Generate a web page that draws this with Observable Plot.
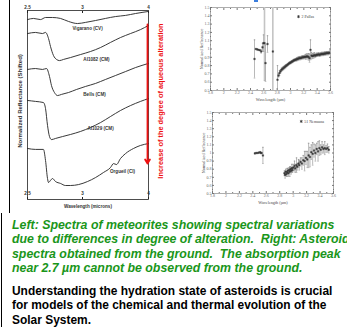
<!DOCTYPE html>
<html><head><meta charset="utf-8">
<script src="https://cdn.jsdelivr.net/npm/d3@7"></script>
<script src="https://cdn.jsdelivr.net/npm/@observablehq/plot@0.6"></script>
<style>
html,body{margin:0;padding:0;background:#fff;}
#page{position:relative;width:347px;height:327px;overflow:hidden;background:#fff;font-family:"Liberation Sans",Arial,sans-serif;}
.abs{position:absolute;}
#rule1{left:9px;top:0;width:1px;height:213px;background:#000;}
#rule2{left:1px;top:213px;width:1px;height:114px;background:#000;}
#blue{left:254px;top:0;width:4px;height:2px;background:#3b7ddd;}
#cap{left:12px;top:218px;white-space:nowrap;font-weight:bold;line-height:14.3px;}
#green{color:#1a961a;font-style:italic;font-size:12.35px;}
#black{color:#000;margin-top:9px;font-size:11.95px;}
</style></head>
<body><div id="page">
<div id="rule1" class="abs"></div>
<div id="rule2" class="abs"></div>
<div id="blue" class="abs"></div>
<div id="left" class="abs" style="left:0;top:0"></div>
<div id="tr" class="abs" style="left:175px;top:0"></div>
<div id="br" class="abs" style="left:175px;top:100px"></div>
<div id="cap" class="abs"><div id="green"></div><div id="black"></div></div>
</div>
<script>
// ---------- Left chart: meteorite spectra (wavelength in microns, shifted normalized reflectance) ----------
const waveTicks = [2.5, 3, 4];
const vigaranoWave = [2.50,2.555,2.618,2.664,2.727,2.80,2.873,2.955,3.045,3.197,3.348,3.50,3.652,3.803,4.00];
const vigaranoRefl = [9.52,9.58,9.52,9.63,9.63,9.58,9.42,9.31,9.37,9.47,9.58,9.68,9.74,9.84,9.95];
const ai1082Wave = [2.50,2.573,2.636,2.664,2.691,2.709,2.736,2.764,2.791,2.827,2.891,2.982,3.121,3.273,3.424,3.576,3.727,3.879,4.00];
const ai1082Refl = [8.78,8.84,8.78,8.84,8.52,8.10,7.62,7.41,7.35,7.41,7.51,7.67,7.83,8.04,8.31,8.57,8.78,8.99,9.21];
const bellsWave = [2.50,2.573,2.636,2.673,2.70,2.718,2.745,2.773,2.809,2.873,2.945,3.045,3.197,3.348,3.50,3.652,3.803,4.00];
const bellsRefl = [6.88,6.93,6.88,6.93,6.51,6.03,5.66,5.50,5.56,5.66,5.82,5.98,6.14,6.35,6.56,6.77,6.98,7.20];
const ai1029Wave = [2.50,2.573,2.645,2.664,2.682,2.70,2.718,2.755,2.818,2.891,2.982,3.121,3.273,3.424,3.576,3.727,3.879,4.00];
const ai1029Refl = [5.24,5.19,5.13,4.81,3.92,3.33,3.17,3.23,3.33,3.44,3.60,3.81,4.07,4.39,4.71,4.97,5.19,5.34];
const orgueilWave = [2.50,2.573,2.645,2.664,2.682,2.691,2.709,2.727,2.755,2.80,2.845,2.891,2.964,3.076,3.197,3.318,3.424,3.47,3.515,3.576,3.652,3.773,3.879,4.00];
const orgueilRefl = [2.70,2.65,2.65,2.06,1.11,0.90,1.01,1.11,0.95,0.85,0.74,0.74,0.79,0.95,1.16,1.43,1.69,1.90,1.85,2.17,2.43,2.70,2.86,2.96];
const curveNames = ["Vigarano (CV)","AI1082 (CM)","Bells (CM)","AI1029 (CM)","Orgueil (CI)"];
const labelWave = [3.076, 3.212, 3.182, 3.273, 3.606];
const labelRefl = [9.05, 7.41, 5.56, 3.76, 1.48];
const arrowWave = 3.985, arrowFrom = 9.26, arrowTo = 1.90;
const leftYTitle = "Normalized Reflectance (Shifted)";
const leftXTitle = "Wavelength (microns)";
const redTitle = "Increase of the degree of aqueous alteration";

// ---------- Right charts: asteroid spectra ----------
const astXTicks = [1.8,2,2.2,2.4,2.6,2.8,3,3.2,3.4,3.6];
const astYTicks = [0.5,0.6,0.7,0.8,0.9,1,1.1,1.2,1.3,1.4,1.5];
const pallasName = "2 Pallas";
const pallasWave = [2.46,2.48,2.50,2.52,2.54,2.56,2.58,2.595,2.61,2.625,2.655,2.735,
  2.805,2.82,2.835,2.85,2.865,2.88,2.895,2.91,2.925,2.94,2.955,2.97,2.985,3.00,3.015,3.03,3.045,3.06,3.075,3.09,3.105,3.12,3.135,3.15,3.165,3.18,3.195,3.21,3.225,3.24,3.255,3.27,3.285,3.30,3.315,3.33,3.345,3.36,3.375,3.39,3.405,3.42,3.435,3.45,3.465,3.48,3.495,3.51,3.525,3.54,3.555,3.57,3.585];
const pallasRefl = [0.88,1.00,0.995,0.99,0.985,0.97,1.02,1.07,1.07,0.83,1.06,0.97,
  0.63,0.68,0.71,0.73,0.75,0.76,0.77,0.78,0.79,0.80,0.81,0.82,0.83,0.835,0.845,0.85,0.86,0.865,0.87,0.875,0.88,0.885,0.89,0.89,0.895,0.90,0.90,0.905,0.905,0.91,0.91,0.905,0.89,0.99,0.92,0.915,0.92,0.925,0.92,0.93,0.93,0.935,0.93,0.935,0.94,0.94,0.94,0.945,0.945,0.95,0.95,0.95,0.955];
const pallasErr = [0.23,0,0,0,0,0.02,0.05,0.10,0.45,0.22,0.10,0.9,
  0.17,0.02,0.03,0.02,0.02,0.02,0.02,0.02,0.02,0.015,0.015,0.015,0.015,0.015,0.015,0.015,0.015,0.015,0.015,0.02,0.02,0.02,0.02,0.02,0.02,0.02,0.02,0.02,0.03,0.03,0.03,0.04,0.05,0.12,0.04,0.03,0.03,0.03,0.02,0.02,0.02,0.02,0.02,0.02,0.02,0.02,0.02,0.02,0.02,0.02,0.02,0.02,0.02];
const secondName = "51 Nemausa";
const secondWave = [2.43,2.45,2.47,2.49,2.51,2.52,2.53,2.55,
  2.87,2.88,2.89,2.90,2.91,2.92,2.93,2.94,2.95,2.96,2.97,2.98,2.99,3.00,3.02,3.03,3.05,3.06,3.08,3.09,3.11,3.13,3.15,3.17,3.19,3.21,3.23,3.25,3.27,3.29,3.31,3.33,3.35,3.37,3.39,3.41,3.43,3.45,3.47,3.49,3.51,3.53];
const secondRefl = [0.995,1.0,1.0,1.005,1.01,1.0,1.0,0.97,
  0.75,0.73,0.77,0.74,0.76,0.78,0.75,0.79,0.77,0.80,0.78,0.81,0.79,0.82,0.84,0.81,0.85,0.83,0.87,0.85,0.89,0.87,0.91,0.90,0.94,0.92,0.97,0.95,1.01,0.99,1.03,1.00,1.05,1.02,1.06,1.04,1.07,1.05,1.06,1.05,1.06,1.04];
const secondErr = [0,0,0,0,0,0,0,0.10,
  0.03,0.04,0.03,0.03,0.05,0.03,0.04,0.03,0.06,0.03,0.04,0.05,0.03,0.04,0.06,0.05,0.09,0.04,0.05,0.06,0.05,0.07,0.06,0.12,0.08,0.10,0.15,0.12,0.09,0.14,0.08,0.10,0.07,0.12,0.09,0.06,0.07,0.05,0.08,0.04,0.05,0.04];
const legendWave = 3.12, legendRefl = 1.39;

// ---------- Caption text ----------
const greenLines = [
  "Left: Spectra of meteorites showing spectral variations",
  "due to differences in degree of alteration.\u00a0 Right: Asteroid",
  "spectra obtained from the ground.\u00a0 The absorption peak",
  "near 2.7 \u00b5m cannot be observed from the ground."
];
const blackLines = [
  "Understanding the hydration state of asteroids is crucial",
  "for models of the chemical and thermal evolution of the",
  "Solar System."
];

// ---------- Build left chart ----------
const series = [
  [vigaranoWave, vigaranoRefl],
  [ai1082Wave, ai1082Refl],
  [bellsWave, bellsRefl],
  [ai1029Wave, ai1029Refl],
  [orgueilWave, orgueilRefl]
];
const lineData = series.flatMap(([w, r], k) => w.map((x, i) => ({w: x, r: r[i], s: curveNames[k]})));
const labels = curveNames.map((n, i) => ({n, w: labelWave[i], r: labelRefl[i]}));
const bold = "bold";
const leftPlot = Plot.plot({
  width: 175, height: 215,
  marginLeft: 27, marginRight: 27, marginTop: 10, marginBottom: 16,
  style: {background: "transparent", fontFamily: "'Liberation Sans', Arial, sans-serif", overflow: "visible"},
  x: {type: "linear", domain: waveTicks, range: [27, 82, 148], axis: null},
  y: {domain: [0, 10], axis: null},
  marks: [
    Plot.frame({stroke: "#222", strokeWidth: 0.8}),
    Plot.axisX({anchor: "top", ticks: waveTicks, tickSize: -2, tickFormat: () => "", label: null, stroke: "#222"}),
    Plot.axisX({anchor: "bottom", ticks: waveTicks, tickSize: -2, tickFormat: () => "", label: null, stroke: "#222"}),
    Plot.text(waveTicks, {x: d => d, frameAnchor: "top", dy: -5, text: d => String(d), fontSize: 4.6, fontWeight: bold, fill: "#333"}),
    Plot.text(waveTicks, {x: d => d, frameAnchor: "bottom", dy: -5, text: d => String(d), fontSize: 4.6, fontWeight: bold, fill: "#333"}),
    Plot.line(lineData, {x: "w", y: "r", z: "s", stroke: "#222", strokeWidth: 0.9, curve: "monotone-x"}),
    Plot.text(labels, {x: "w", y: "r", text: "n", fontSize: 4.6, fontWeight: bold, fill: "#333"}),
    Plot.arrow([{w: arrowWave, a: arrowFrom, b: arrowTo}], {x1: "w", x2: "w", y1: "a", y2: "b", stroke: "#ee1111", strokeWidth: 1.8, headLength: 4}),
    Plot.text([redTitle], {frameAnchor: "right", textAnchor: "middle", dx: 12, dy: -4, rotate: -90, fill: "#ee1111", fontWeight: bold, fontSize: 7.4}),
    Plot.text([leftYTitle], {frameAnchor: "left", textAnchor: "middle", dx: -7, dy: -4, rotate: -90, fill: "#333", fontWeight: bold, fontSize: 6}),
    Plot.text([leftXTitle], {frameAnchor: "bottom", dy: 8, fill: "#333", fontWeight: bold, fontSize: 4.6})
  ]
});
document.getElementById("left").append(leftPlot);

// ---------- Build asteroid charts ----------
const fmt = d => String(+d.toFixed(1));
const minorX = d3.range(1.9, 3.6, 0.2);
const minorY = d3.range(0.55, 1.5, 0.1);
function asteroidPlot(wave, refl, err, name, dims) {
  const data = wave.map((w, i) => ({w, r: refl[i], e: err[i]}));
  const bars = data.filter(d => d.e > 0);
  const grey = "#666";
  return Plot.plot({
    width: dims.width, height: dims.height,
    marginLeft: dims.left, marginRight: dims.right, marginTop: dims.top, marginBottom: dims.bottom,
    style: {background: "transparent", fontFamily: "'Liberation Serif', 'DejaVu Serif', serif", overflow: "visible"},
    x: {domain: [1.8, 3.6], axis: null},
    y: {domain: [0.5, 1.5], axis: null},
    marks: [
      Plot.frame({stroke: "#777", strokeWidth: 0.6}),
      Plot.axisX({anchor: "bottom", ticks: astXTicks, tickSize: -2, tickPadding: 3, tickFormat: fmt, label: null, fontSize: 4, stroke: "#777", fill: grey}),
      Plot.axisX({anchor: "top", ticks: astXTicks, tickSize: -2, tickFormat: () => "", label: null, stroke: "#777"}),
      Plot.axisX({anchor: "bottom", ticks: minorX, tickSize: -1, tickFormat: () => "", label: null, stroke: "#777"}),
      Plot.axisX({anchor: "top", ticks: minorX, tickSize: -1, tickFormat: () => "", label: null, stroke: "#777"}),
      Plot.axisY({anchor: "left", ticks: astYTicks, tickSize: -2, tickPadding: 3, tickFormat: fmt, label: null, fontSize: 4, stroke: "#777", fill: grey}),
      Plot.axisY({anchor: "right", ticks: astYTicks, tickSize: -2, tickFormat: () => "", label: null, stroke: "#777"}),
      Plot.axisY({anchor: "left", ticks: minorY, tickSize: -1, tickFormat: () => "", label: null, stroke: "#777"}),
      Plot.axisY({anchor: "right", ticks: minorY, tickSize: -1, tickFormat: () => "", label: null, stroke: "#777"}),
      Plot.ruleX(bars, {x: "w", y1: d => d.r - d.e, y2: d => d.r + d.e, stroke: d => d.e > 0.3 ? "#c4c4c4" : "#8a8a8a", strokeWidth: d => d.e > 0.3 ? 1.6 : 0.6, clip: true}),
      Plot.link(bars, {x1: d => d.w - 0.012, x2: d => d.w + 0.012, y1: d => d.r + d.e, y2: d => d.r + d.e, stroke: "#8a8a8a", strokeWidth: 0.6, clip: true}),
      Plot.link(bars, {x1: d => d.w - 0.012, x2: d => d.w + 0.012, y1: d => d.r - d.e, y2: d => d.r - d.e, stroke: "#8a8a8a", strokeWidth: 0.6, clip: true}),
      Plot.dot(data, {x: "w", y: "r", symbol: "square", r: 0.9, fill: "#444", stroke: "#222", strokeWidth: 0.3, clip: true}),
      Plot.dot([{w: legendWave, r: legendRefl}], {x: "w", y: "r", symbol: "asterisk", r: 1.4, stroke: "#333", strokeWidth: 0.8}),
      Plot.text([{w: legendWave, r: legendRefl}], {x: "w", y: "r", text: () => name, dx: 3, textAnchor: "start", fontSize: 4, fill: "#444"}),
      Plot.text(["Normalized Reflectance"], {frameAnchor: "left", textAnchor: "middle", dx: -9, rotate: -90, fontSize: 4.2, fill: "#444"}),
      Plot.text(["Wavelength (\u00b5m)"], {frameAnchor: "bottom", dy: 10, fontSize: 4.2, fill: "#444"})
    ]
  });
}
document.getElementById("tr").append(asteroidPlot(pallasWave, pallasRefl, pallasErr, pallasName,
  {width: 172, height: 105, left: 35, right: 17, top: 7, bottom: 15}));
document.getElementById("br").append(asteroidPlot(secondWave, secondRefl, secondErr, secondName,
  {width: 172, height: 115, left: 37, right: 14, top: 12, bottom: 22}));

// ---------- Caption ----------
const g = document.getElementById("green");
greenLines.forEach(t => { const d = document.createElement("div"); d.textContent = t; g.append(d); });
const b = document.getElementById("black");
blackLines.forEach(t => { const d = document.createElement("div"); d.textContent = t; b.append(d); });
</script>
</body></html>
